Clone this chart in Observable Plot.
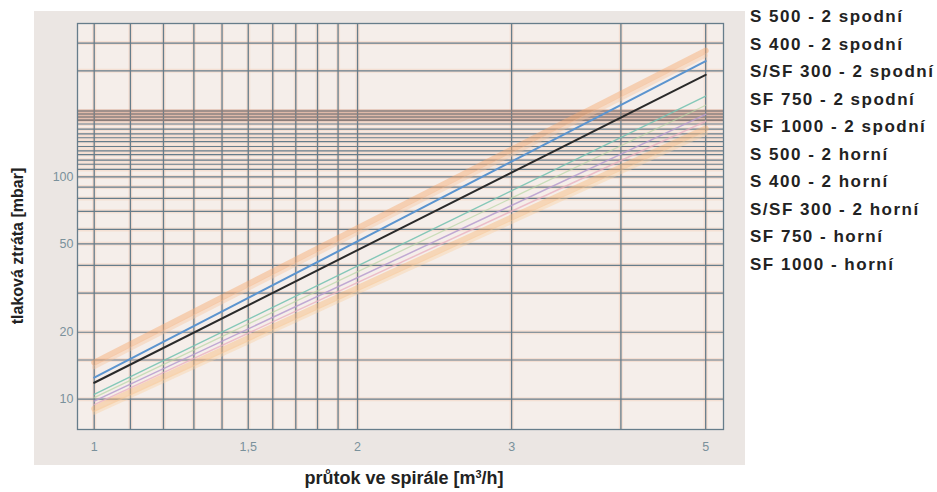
<!DOCTYPE html>
<html><head><meta charset="utf-8">
<script src="https://cdn.jsdelivr.net/npm/d3@7"></script>
<script src="https://cdn.jsdelivr.net/npm/@observablehq/plot@0.6"></script>
<style>
html,body{margin:0;padding:0;background:#fff;width:937px;height:492px;overflow:hidden;font-family:"Liberation Sans",Arial,sans-serif}
#panel{position:absolute;left:34px;top:11px;width:711px;height:454px;background:#ebe6e3}
#chart{position:absolute;left:34px;top:11px}
#ytitle{position:absolute;left:18px;top:246px;transform:translate(-50%,-50%) rotate(-90deg);white-space:nowrap;font-weight:bold;font-size:16px;color:#222}
#xtitle{position:absolute;left:404px;top:478px;transform:translate(-50%,-50%);white-space:nowrap;font-weight:bold;font-size:18px;color:#222}
#xtitle sup{font-size:11px;vertical-align:6px;line-height:0}
#legend{position:absolute;left:750px;top:3px}
#legend div{height:27.5px;line-height:27.5px;font-weight:bold;font-size:17px;letter-spacing:1.5px;color:#222;white-space:nowrap}
</style></head><body>
<div id="panel"></div>
<div id="chart"></div>
<div id="ytitle">tlaková ztráta [mbar]</div>
<div id="xtitle">průtok ve spirále [m<sup>3</sup>/h]</div>
<div id="legend"></div>
<script>
// ---- data ----
const seriesNames = [
  "S 500 - 2 spodní", "S 400 - 2 spodní", "S/SF 300 - 2 spodní", "SF 750 - 2 spodní",
  "SF 1000 - 2 spodní", "S 500 - 2 horní", "S 400 - 2 horní", "S/SF 300 - 2 horní",
  "SF 750 - horní", "SF 1000 - horní"
];
const flowPoints = [1, 5];                 // průtok [m3/h] at line ends
const lossAtStart = [14.6, 12.5, 11.85, 10.5, 9.8, 9.05, 13.9, 10.15, 9.45, 8.7];   // mbar at 1 m3/h
const lossAtEnd   = [370, 332, 288, 231, 191, 165, 352, 210, 178, 157];              // mbar at 5 m3/h
const xGrid = [1, 1.1, 1.2, 1.3, 1.4, 1.5, 1.6, 1.7, 1.8, 1.9, 2, 3, 4, 5];
const yGrid = [10, 15, 20, 30, 40, 50, 58, 70, 80, 90, 100, 108, 114, 119, 126, 131, 137, 144, 150, 156, 164, 173, 300, 400];
const yGridBand = [180, 186, 192, 198];
const xTicks = [1, 1.5, 2, 3, 5];
const yTicks = [10, 20, 50, 100];

// ---- styles ----
const seriesStyle = [
  {stroke: "#f7a86f", w: 6, o: 0.45},
  {stroke: "#5b94cf", w: 2, o: 1},
  {stroke: "#2a2a2a", w: 2, o: 1},
  {stroke: "#78c3b3", w: 1.4, o: 0.9},
  {stroke: "#b79ccf", w: 1.5, o: 0.85},
  {stroke: "#f9b77a", w: 6, o: 0.45},
  {stroke: "#f8c29a", w: 4, o: 0.4},
  {stroke: "#b6d6a4", w: 1.3, o: 0.7},
  {stroke: "#e9aebe", w: 1.5, o: 0.75},
  {stroke: "#fbcf9f", w: 4, o: 0.4}
];

const lines = seriesNames.map((name, i) => flowPoints.map((q, j) => ({
  series: name, q, dp: j === 0 ? lossAtStart[i] : lossAtEnd[i]
})));

const gridDark = "#667d8b";
const gridHalo = "#f3c3a8";

const plot = Plot.plot({
  width: 711,
  height: 454,
  marginLeft: 43,
  marginRight: 22,
  marginTop: 12,
  marginBottom: 36,
  style: {background: "transparent", fontFamily: "Liberation Sans, Arial, sans-serif"},
  x: {type: "log", domain: [0.957, 5.24]},
  y: {type: "log", domain: [7.3, 490]},
  marks: [
    Plot.frame({fill: "#f5eeea", stroke: null}),
    Plot.ruleX(xGrid, {stroke: gridHalo, strokeWidth: 4, strokeOpacity: 0.35}),
    Plot.ruleY(yGrid, {stroke: gridHalo, strokeWidth: 4, strokeOpacity: 0.35}),
    Plot.ruleY(yGridBand, {stroke: "#d7a894", strokeWidth: 4, strokeOpacity: 0.5}),
    Plot.ruleX(xGrid, {stroke: gridDark, strokeWidth: 1.3}),
    Plot.ruleY(yGrid, {stroke: gridDark, strokeWidth: 1.2}),
    Plot.ruleY(yGridBand, {stroke: "#8a7d7a", strokeWidth: 1.6}),
    Plot.frame({stroke: gridDark, strokeWidth: 1.3}),
    ...lines.map((d, i) => Plot.line(d, {
      x: "q", y: "dp",
      stroke: seriesStyle[i].stroke,
      strokeWidth: seriesStyle[i].w,
      strokeOpacity: seriesStyle[i].o
    })),
    Plot.axisX(xTicks, {tickSize: 0, tickPadding: 13, fontSize: 12.5, fill: "#7a919b",
      tickFormat: d => String(d).replace(".", ","), label: null}),
    Plot.axisY(yTicks, {tickSize: 0, tickPadding: 4, fontSize: 12.5, fill: "#7a919b",
      tickFormat: d => String(d), label: null})
  ]
});
document.getElementById("chart").appendChild(plot);

const legend = document.getElementById("legend");
seriesNames.forEach(n => {
  const div = document.createElement("div");
  div.textContent = n;
  legend.appendChild(div);
});
</script>
</body></html>
